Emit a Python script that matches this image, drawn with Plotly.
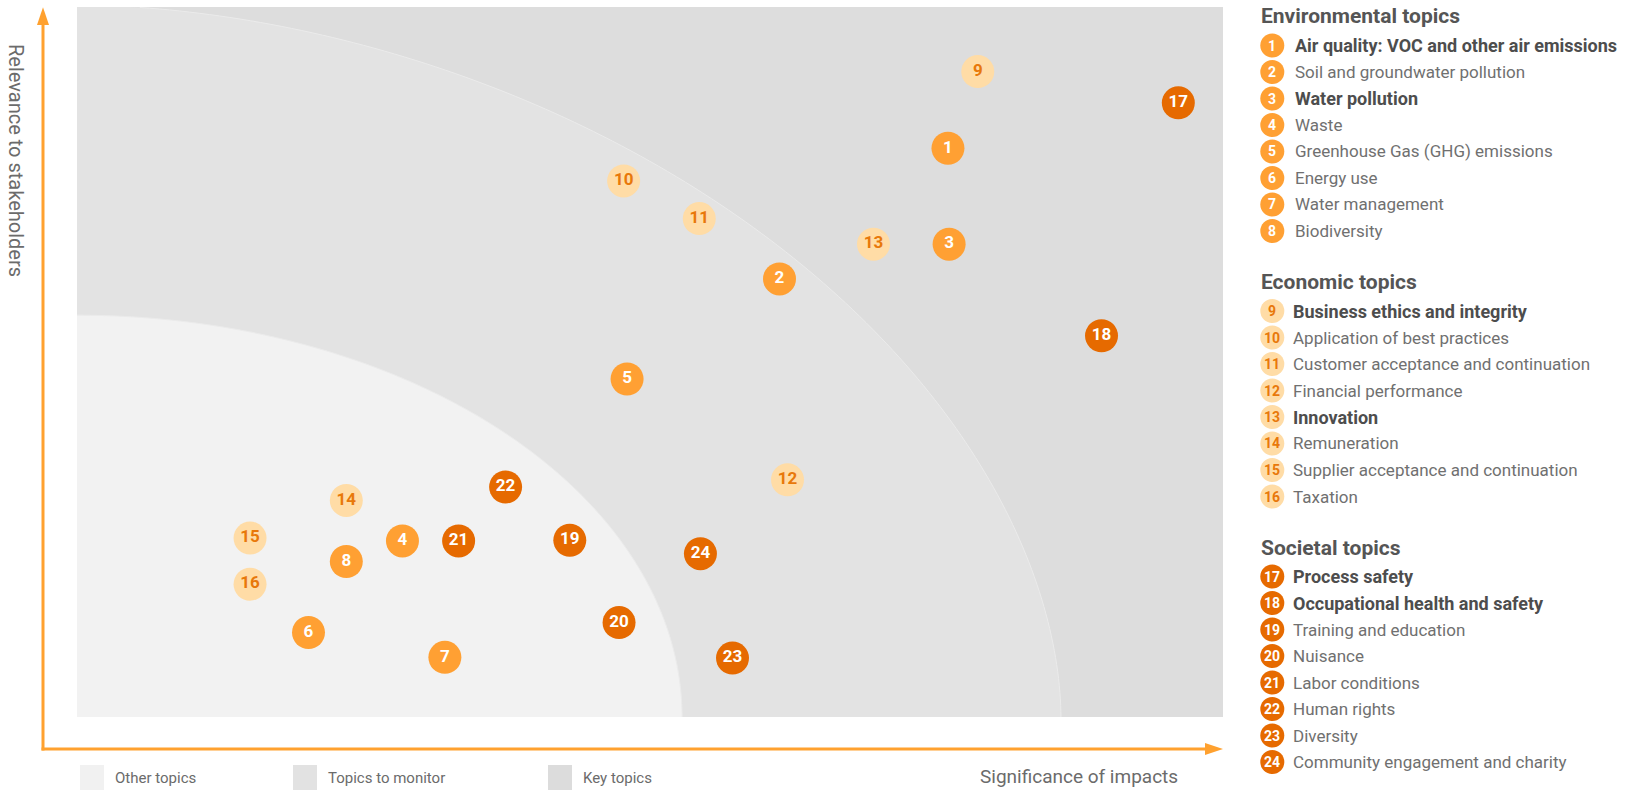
import math
import plotly.graph_objects as go

# ---------------- data ----------------
topic_ids = list(range(1, 25))
significance = [76.0, 61.3, 76.1, 28.4, 48.0, 20.2, 32.1, 23.5,
                78.6, 47.7, 54.3, 62.0, 69.5, 23.5, 15.1, 15.1,
                96.1, 89.4, 43.0, 47.3, 33.3, 37.4, 57.2, 54.4]
relevance = [80.1, 61.7, 66.6, 24.8, 47.6, 11.9, 8.4, 21.9,
             90.9, 75.5, 70.2, 33.4, 66.6, 30.5, 25.2, 18.7,
             86.5, 53.7, 24.9, 13.3, 24.8, 32.4, 8.3, 23.0]
groups = ["Environmental topics", "Economic topics", "Societal topics"]
group_of_topic = [0] * 8 + [1] * 8 + [2] * 8
topic_names = [
    "Air quality: VOC and other air emissions", "Soil and groundwater pollution",
    "Water pollution", "Waste", "Greenhouse Gas (GHG) emissions", "Energy use",
    "Water management", "Biodiversity",
    "Business ethics and integrity", "Application of best practices",
    "Customer acceptance and continuation", "Financial performance", "Innovation",
    "Remuneration", "Supplier acceptance and continuation", "Taxation",
    "Process safety", "Occupational health and safety", "Training and education",
    "Nuisance", "Labor conditions", "Human rights", "Diversity",
    "Community engagement and charity",
]
bold_topics = [1, 3, 9, 13, 17, 18]
zone_labels = ["Other topics", "Topics to monitor", "Key topics"]

# ---------------- style ----------------
FONT = "Roboto"
fills = ["#FFA033", "#FFDCA6", "#E66A00"]
text_cols = ["#FFFFFF", "#E8780A", "#FFFFFF"]
zone_cols = ["#F2F2F2", "#E3E3E3", "#DDDDDD"]
ARROW = "#FFA12F"
W, H = 1625, 790
ML, MR, MT, MB = 77, 402, 7, 73
PW, PH = W - ML - MR, H - MT - MB


def pxx(px):
    """page pixel x -> paper fraction"""
    return (px - ML) / PW


def pxy(py):
    """page pixel y -> paper fraction"""
    return (H - MB - py) / PH


fig = go.Figure()

# ---------------- zones (background) ----------------
def zone_points(a, b, n, steps=140):
    pts = []
    for i in range(steps + 1):
        t = (math.pi / 2) * i / steps
        c, s = math.cos(t), math.sin(t)
        u = a * (abs(c) ** (2 / n))
        v = b * (abs(s) ** (2 / n))
        pts.append((u, min(v, 100.0)))
    return pts


outer = zone_points(85.86, 100.27, 1.85)
inner = zone_points(52.8, 56.6, 2.0)
shapes = []
d_outer = "M 0,0 " + " ".join(f"L {u:.3f},{v:.3f}" for u, v in outer) + " L 0,100 Z"
d_inner = "M 0,0 " + " ".join(f"L {u:.3f},{v:.3f}" for u, v in inner) + " Z"
for d, col in [(d_outer, zone_cols[1]), (d_inner, zone_cols[0])]:
    shapes.append(dict(type="path", xref="x", yref="y", path=d, fillcolor=col,
                       line=dict(width=0), layer="below"))
for pts in (outer, inner):
    d = "M " + " L ".join(f"{u:.3f},{v:.3f}" for u, v in pts if v < 100)
    shapes.append(dict(type="path", xref="x", yref="y", path=d,
                       line=dict(color="#EBEBEB", width=1), layer="below"))

# ---------------- arrows ----------------
shapes.append(dict(type="line", xref="paper", yref="paper",
                   x0=pxx(43), x1=pxx(43), y0=pxy(750.5), y1=pxy(22),
                   line=dict(color=ARROW, width=3)))
shapes.append(dict(type="path", xref="paper", yref="paper",
                   path=f"M {pxx(37)},{pxy(25)} L {pxx(49)},{pxy(25)} L {pxx(43)},{pxy(7.3)} Z",
                   fillcolor=ARROW, line=dict(width=0)))
shapes.append(dict(type="line", xref="paper", yref="paper",
                   x0=pxx(41.5), x1=pxx(1208), y0=pxy(749), y1=pxy(749),
                   line=dict(color=ARROW, width=3)))
shapes.append(dict(type="path", xref="paper", yref="paper",
                   path=f"M {pxx(1205)},{pxy(743)} L {pxx(1205)},{pxy(755)} L {pxx(1223)},{pxy(749)} Z",
                   fillcolor=ARROW, line=dict(width=0)))

# ---------------- points ----------------
for g in range(3):
    idx = [i for i in range(24) if group_of_topic[i] == g]
    fig.add_trace(go.Scatter(
        x=[significance[i] for i in idx], y=[relevance[i] for i in idx],
        text=[str(topic_ids[i]) for i in idx], mode="markers+text",
        marker=dict(size=33, color=fills[g], line=dict(width=0)),
        textposition="middle center",
        textfont=dict(family=FONT, size=17, color=text_cols[g], weight="bold"),
        hovertext=[topic_names[i] for i in idx], hoverinfo="text",
        showlegend=False, cliponaxis=False))

annotations = []
# ---------------- right-hand topic list ----------------
HEAD_Y0, GROUP_STEP, FIRST_OFF, ROW = 16.5, 265.5, 29.0, 26.5
for g, gname in enumerate(groups):
    hy = HEAD_Y0 + g * GROUP_STEP
    annotations.append(dict(xref="paper", yref="paper", x=pxx(1259), y=pxy(hy),
                            xanchor="left", yanchor="middle", showarrow=False,
                            text=f"<b>{gname}</b>",
                            font=dict(family=FONT, size=21, color="#555555")))
    idx = [i for i in range(24) if group_of_topic[i] == g]
    for k, i in enumerate(idx):
        ry = hy + FIRST_OFF + k * ROW
        shapes.append(dict(type="circle", xref="paper", yref="paper",
                           xsizemode="pixel", ysizemode="pixel",
                           xanchor=pxx(1272.3), yanchor=pxy(ry),
                           x0=-12, x1=12, y0=-12, y1=12,
                           fillcolor=fills[g], line=dict(width=0)))
        annotations.append(dict(xref="paper", yref="paper", x=pxx(1272.3), y=pxy(ry),
                                xanchor="center", yanchor="middle", showarrow=False,
                                text=f"<b>{topic_ids[i]}</b>",
                                font=dict(family=FONT, size=14, color=text_cols[g])))
        is_bold = topic_ids[i] in bold_topics
        annotations.append(dict(xref="paper", yref="paper",
                                x=pxx(1291 if g else 1293), y=pxy(ry),
                                xanchor="left", yanchor="middle", showarrow=False,
                                text=f"<b>{topic_names[i]}</b>" if is_bold else topic_names[i],
                                font=dict(family=FONT, size=18 if is_bold else 17,
                                          color="#4D4D4D" if is_bold else "#707070")))

# ---------------- zone legend ----------------
zone_sq_x = [80, 293, 548]
for k, lab in enumerate(zone_labels):
    shapes.append(dict(type="rect", xref="paper", yref="paper",
                       x0=pxx(zone_sq_x[k]), x1=pxx(zone_sq_x[k] + 24),
                       y0=pxy(790), y1=pxy(765),
                       fillcolor=["#F1F1F1", "#E2E2E2", "#DCDCDC"][k], line=dict(width=0)))
    annotations.append(dict(xref="paper", yref="paper", x=pxx(zone_sq_x[k] + 33), y=pxy(778),
                            xanchor="left", yanchor="middle", showarrow=False, text=lab,
                            font=dict(family=FONT, size=15, color="#6B6B6B")))

# ---------------- axis titles ----------------
annotations.append(dict(xref="paper", yref="paper", x=pxx(1079), y=pxy(777),
                        xanchor="center", yanchor="middle", showarrow=False,
                        text="Significance of impacts",
                        font=dict(family=FONT, size=19, color="#6B6B6B")))
annotations.append(dict(xref="paper", yref="paper", x=pxx(16), y=pxy(160),
                        xanchor="center", yanchor="middle", showarrow=False,
                        text="Relevance to stakeholders", textangle=90,
                        font=dict(family=FONT, size=20, color="#6B6B6B")))

fig.update_layout(
    width=W, height=H,
    margin=dict(l=ML, r=MR, t=MT, b=MB, pad=0),
    paper_bgcolor="white", plot_bgcolor=zone_cols[2],
    xaxis=dict(range=[0, 100], visible=False, fixedrange=True),
    yaxis=dict(range=[0, 100], visible=False, fixedrange=True),
    shapes=shapes, annotations=annotations,
    font=dict(family=FONT),
)

fig.write_html(
    "out.html",
    config={"displayModeBar": False},
    post_script="document.body.style.margin='0px';"
                "document.documentElement.style.overflow='hidden';",
)
